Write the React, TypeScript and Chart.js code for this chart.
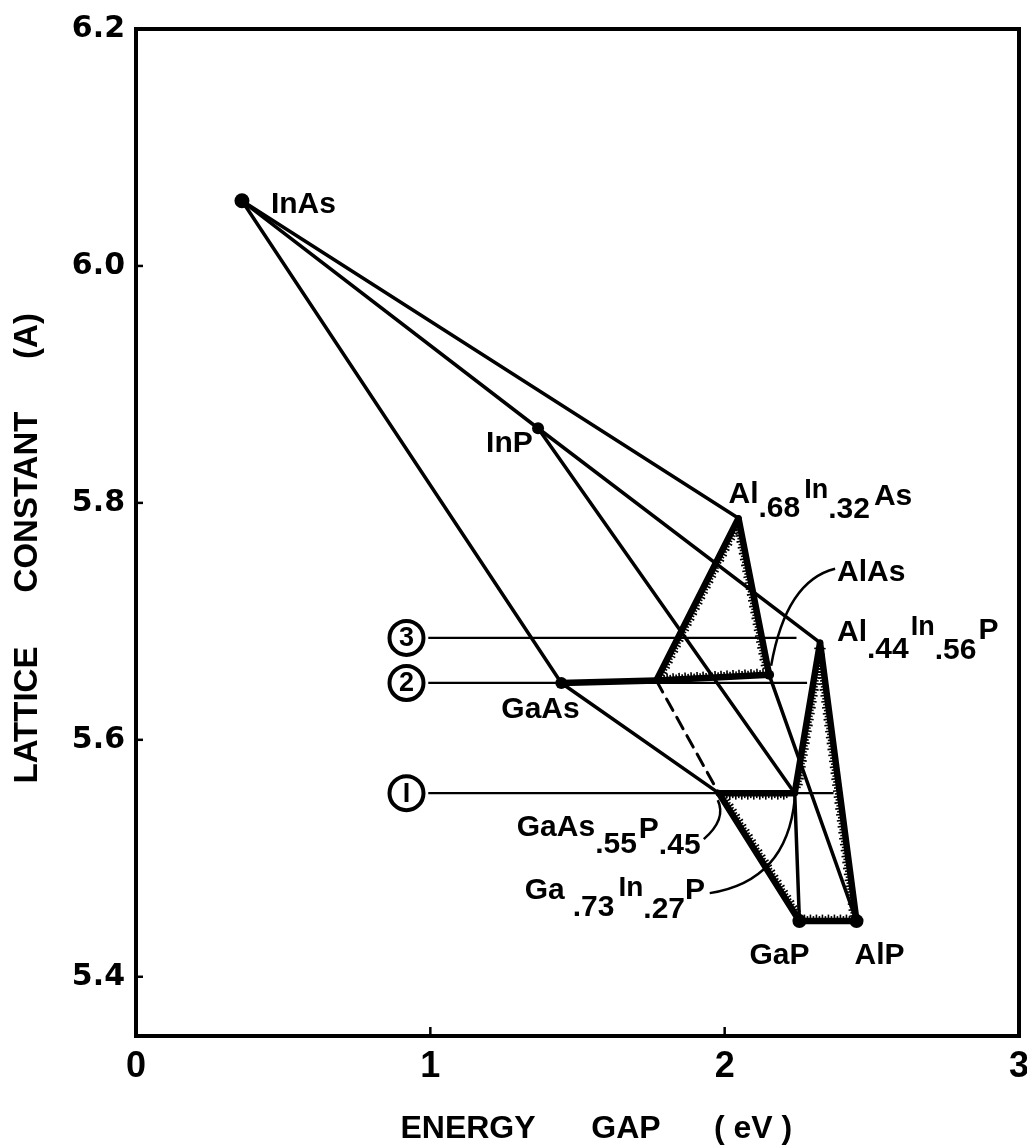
import React, { useEffect, useRef } from 'react';
import { Chart, registerables } from 'chart.js';

Chart.register(...registerables);

// ---------- data ----------
const xTicks = [0, 1, 2, 3];
const yTicks = [5.4, 5.6, 5.8, 6.0, 6.2];

const compoundNames = ['InAs', 'InP', 'GaAs', 'AlAs', 'GaP', 'AlP'];
const compoundGap = [0.36, 1.366, 1.445, 2.151, 2.254, 2.448];
const compoundLattice = [6.055, 5.863, 5.648, 5.655, 5.447, 5.447];

const alloyNames = ['Al.68In.32As', 'Al.44In.56P', 'GaAs.55P.45', 'Ga.73In.27P', 'AlGaAs-x'];
const alloyGap = [2.047, 2.324, 1.98, 2.238, 1.768];
const alloyLattice = [5.787, 5.682, 5.555, 5.555, 5.65];

const thinLines = [
  ['InAs', 'GaAs'],
  ['InAs', 'Al.68In.32As'],
  ['InAs', 'InP'],
  ['InP', 'Al.44In.56P'],
  ['InP', 'Ga.73In.27P'],
  ['GaAs', 'GaAs.55P.45'],
  ['AlAs', 'AlP'],
  ['Ga.73In.27P', 'GaP'],
];
const thickLines = [
  ['GaAs', 'AlGaAs-x'],
  ['AlGaAs-x', 'Al.68In.32As'],
  ['Al.68In.32As', 'AlAs'],
  ['AlGaAs-x', 'AlAs'],
  ['GaAs.55P.45', 'Ga.73In.27P'],
  ['GaAs.55P.45', 'GaP'],
  ['Al.44In.56P', 'Ga.73In.27P'],
  ['Al.44In.56P', 'AlP'],
  ['GaP', 'AlP'],
];
const dashedLines = [['AlGaAs-x', 'GaAs.55P.45']];
// stippled edge: [from, to, side-toward]
const stippledEdges = [
  ['AlGaAs-x', 'Al.68In.32As', 'AlAs'],
  ['Al.68In.32As', 'AlAs', 'AlGaAs-x'],
  ['AlGaAs-x', 'AlAs', 'Al.68In.32As'],
  ['GaAs.55P.45', 'Ga.73In.27P', 'GaP'],
  ['GaAs.55P.45', 'GaP', 'Ga.73In.27P'],
  ['Al.44In.56P', 'Ga.73In.27P', 'AlP'],
  ['Al.44In.56P', 'AlP', 'GaP'],
  ['GaP', 'AlP', 'Al.44In.56P'],
];

const matchLabels = ['1', '2', '3'];
const matchLattice = [5.555, 5.648, 5.686];
const matchFrom = [0.993, 0.993, 0.993];
const matchTo = [2.37, 2.28, 2.244];
const matchCircleGap = [0.919, 0.919, 0.919];

// ---------- styles ----------
const dotRadius = [7.5, 6, 6, 5, 7, 7];
const LABEL_FONT = '"Liberation Sans", Arial, sans-serif';

type Seg = { t: string; dy?: number; size?: number; gap?: number };
const labelStyle: Record<string, { dx: number; dy: number; segs: Seg[] }> = {
  InAs: { dx: 29, dy: 12, segs: [{ t: 'InAs' }] },
  InP: { dx: -52, dy: 24, segs: [{ t: 'InP' }] },
  GaAs: { dx: -60, dy: 35, segs: [{ t: 'GaAs' }] },
  AlAs: { dx: 68, dy: -94, segs: [{ t: 'AlAs' }] },
  GaP: { dx: -50, dy: 43, segs: [{ t: 'GaP' }] },
  AlP: { dx: -2, dy: 43, segs: [{ t: 'AlP' }] },
  'Al.68In.32As': {
    dx: -10, dy: -15,
    segs: [{ t: 'Al' }, { t: '.68', dy: 14, gap: 4 }, { t: 'In', dy: -5, size: 27 }, { t: '.32', dy: 15, gap: 4 }, { t: 'As', dy: 2 }],
  },
  'Al.44In.56P': {
    dx: 17, dy: -2,
    segs: [{ t: 'Al' }, { t: '.44', dy: 17, gap: 2 }, { t: 'In', dy: -6, size: 27 }, { t: '.56', dy: 18, gap: 2 }, { t: 'P', dy: -2 }],
  },
  'GaAs.55P.45': {
    dx: -202, dy: 43,
    segs: [{ t: 'GaAs' }, { t: '.55', dy: 17, gap: 2 }, { t: 'P', dy: 2 }, { t: '.45', dy: 18 }],
  },
  'Ga.73In.27P': {
    dx: -270, dy: 106,
    segs: [{ t: 'Ga', gap: 8 }, { t: '.73', dy: 17, gap: 4 }, { t: 'In', dy: -3, size: 28 }, { t: '.27', dy: 19 }, { t: 'P' }],
  },
};
// callout curves: [point, start offset, control offset, end offset] in px
const callouts: [string, number[], number[], number[]][] = [
  ['AlAs', [66, -106], [17, -94], [2, -9]],
  ['GaAs.55P.45', [-15, 46], [8, 26], [-1, 7]],
  ['Ga.73In.27P', [-85, 100], [-8, 88], [0, 6]],
];

function pointOf(name: string) {
  let i = compoundNames.indexOf(name);
  if (i >= 0) return { x: compoundGap[i], y: compoundLattice[i] };
  i = alloyNames.indexOf(name);
  return { x: alloyGap[i], y: alloyLattice[i] };
}

function segDataset(pair: string[], width: number, dash?: number[]) {
  return {
    type: 'scatter' as const,
    data: pair.map(pointOf),
    showLine: true,
    borderColor: '#000',
    borderWidth: width,
    borderDash: dash || [],
    borderCapStyle: 'round' as const,
    pointRadius: 0,
    fill: false,
  };
}

function drawRich(ctx: CanvasRenderingContext2D, x: number, y: number, segs: Seg[]) {
  let cx = x;
  for (const s of segs) {
    ctx.font = `bold ${s.size ?? 30}px ${LABEL_FONT}`;
    ctx.fillText(s.t, cx, y + (s.dy || 0));
    cx += ctx.measureText(s.t).width + (s.gap || 0);
  }
}

const decorPlugin = {
  id: 'decor',
  afterDatasetsDraw(chart: any) {
    const ctx: CanvasRenderingContext2D = chart.ctx;
    const xs = chart.scales.x;
    const ys = chart.scales.y;
    const ca = chart.chartArea;
    const px = (name: string) => {
      const p = pointOf(name);
      return { x: xs.getPixelForValue(p.x), y: ys.getPixelForValue(p.y) };
    };
    ctx.save();
    ctx.strokeStyle = '#000';
    ctx.fillStyle = '#000';

    // frame
    ctx.lineWidth = 4;
    ctx.strokeRect(ca.left, ca.top, ca.right - ca.left, ca.bottom - ca.top);
    // inward tick marks
    ctx.lineWidth = 2.5;
    xTicks.slice(1, -1).forEach((v) => {
      const x = xs.getPixelForValue(v);
      ctx.beginPath();
      ctx.moveTo(x, ca.bottom);
      ctx.lineTo(x, ca.bottom - 9);
      ctx.stroke();
    });
    yTicks.slice(0, -1).forEach((v) => {
      const y = ys.getPixelForValue(v);
      ctx.beginPath();
      ctx.moveTo(ca.left, y);
      ctx.lineTo(ca.left + 7, y);
      ctx.stroke();
    });

    // stipple along indirect-gap boundaries
    ctx.lineWidth = 1.6;
    stippledEdges.forEach(([a, b, c]) => {
      const A = px(a), B = px(b), C = px(c);
      const dx = B.x - A.x, dy = B.y - A.y;
      const len = Math.hypot(dx, dy);
      const ux = dx / len, uy = dy / len;
      let nx = -uy, ny = ux;
      if ((C.x - A.x) * nx + (C.y - A.y) * ny < 0) { nx = -nx; ny = -ny; }
      let k = 0;
      for (let s = 5; s < len - 5; s += 3) {
        const l = k % 2 === 0 ? 6.5 : 5;
        const bx = A.x + ux * s, by = A.y + uy * s;
        ctx.beginPath();
        ctx.moveTo(bx + nx * 2, by + ny * 2);
        ctx.lineTo(bx + nx * l, by + ny * l);
        ctx.stroke();
        k++;
      }
    });

    // callout curves
    ctx.lineWidth = 2.5;
    callouts.forEach(([name, s, c, e]) => {
      const P = px(name);
      ctx.beginPath();
      ctx.moveTo(P.x + s[0], P.y + s[1]);
      ctx.quadraticCurveTo(P.x + c[0], P.y + c[1], P.x + e[0], P.y + e[1]);
      ctx.stroke();
    });

    // numbered circles
    matchLabels.forEach((lab, i) => {
      const cx = xs.getPixelForValue(matchCircleGap[i]);
      const cy = ys.getPixelForValue(matchLattice[i]);
      ctx.beginPath();
      ctx.arc(cx, cy, 17, 0, Math.PI * 2);
      ctx.fillStyle = '#fff';
      ctx.fill();
      ctx.lineWidth = 4;
      ctx.stroke();
      ctx.fillStyle = '#000';
      ctx.font = `bold 27px ${LABEL_FONT}`;
      ctx.textAlign = 'center';
      ctx.textBaseline = 'middle';
      ctx.fillText(lab === '1' ? 'I' : lab, cx, cy + 1);
    });

    // compound labels
    ctx.textAlign = 'left';
    ctx.textBaseline = 'alphabetic';
    ctx.fillStyle = '#000';
    Object.keys(labelStyle).forEach((name) => {
      const P = px(name);
      const st = labelStyle[name];
      drawRich(ctx, P.x + st.dx, P.y + st.dy, st.segs);
    });

    // axis titles
    ctx.font = `bold 32px ${LABEL_FONT}`;
    ctx.textAlign = 'center';
    const xt: [string, number][] = [['ENERGY', 468], ['GAP', 626], ['( eV )', 753]];
    xt.forEach(([t, x]) => ctx.fillText(t, x, 1138));
    ctx.font = `bold 33px ${LABEL_FONT}`;
    const yt: [string, number][] = [['LATTICE', 715], ['CONSTANT', 502], ['(A)', 336]];
    yt.forEach(([t, y]) => {
      ctx.save();
      ctx.translate(37, y);
      ctx.rotate(-Math.PI / 2);
      ctx.fillText(t, 0, 0);
      ctx.restore();
    });
    ctx.restore();
  },
};

export default function App() {
  const ref = useRef<HTMLCanvasElement | null>(null);
  useEffect(() => {
    if (!ref.current) return;
    const datasets: any[] = [];
    matchLattice.forEach((v, i) => {
      datasets.push({
        type: 'scatter',
        data: [{ x: matchFrom[i], y: v }, { x: matchTo[i], y: v }],
        showLine: true,
        borderColor: '#000',
        borderWidth: 2.2,
        pointRadius: 0,
      });
    });
    thinLines.forEach((p) => datasets.push(segDataset(p, 3.5)));
    dashedLines.forEach((p) => datasets.push(segDataset(p, 3, [13, 8])));
    thickLines.forEach((p) => datasets.push(segDataset(p, 6.5)));
    datasets.push({
      type: 'scatter',
      data: compoundNames.map((n, i) => ({ x: compoundGap[i], y: compoundLattice[i] })),
      pointRadius: dotRadius,
      pointBackgroundColor: '#000',
      pointBorderWidth: 0,
      showLine: false,
    });

    const chart = new Chart(ref.current, {
      type: 'scatter',
      data: { datasets },
      options: {
        responsive: false,
        animation: false,
        events: [],
        layout: { padding: { left: 0, right: 8, top: 29, bottom: 0 } },
        plugins: { legend: { display: false }, tooltip: { enabled: false } },
        scales: {
          x: {
            type: 'linear',
            min: 0,
            max: 3,
            afterBuildTicks: (ax: any) => { ax.ticks = xTicks.map((v) => ({ value: v })); },
            afterFit: (s: any) => { s.height = 111; s.paddingLeft = 0; s.paddingRight = 0; },
            grid: { display: false, drawTicks: false },
            border: { display: false },
            ticks: {
              color: '#000',
              padding: 9,
              font: { family: LABEL_FONT, weight: 'bold', size: 36 },
              callback: (v: any) => String(v),
            },
          },
          y: {
            type: 'linear',
            min: 5.35,
            max: 6.2,
            afterBuildTicks: (ax: any) => { ax.ticks = yTicks.map((v) => ({ value: v })); },
            afterFit: (s: any) => { s.width = 136; s.paddingTop = 0; s.paddingBottom = 0; },
            grid: { display: false, drawTicks: false },
            border: { display: false },
            ticks: {
              color: '#000',
              padding: 11,
              font: { family: '"DejaVu Sans", sans-serif', weight: 'bold', size: 30 },
              callback: (v: any) => Number(v).toFixed(1),
            },
          },
        },
      } as any,
      plugins: [decorPlugin],
    });
    return () => chart.destroy();
  }, []);

  return (
    <div style={{ position: 'absolute', left: 0, top: 0, width: 1027, height: 1147, background: '#fff' }}>
      <canvas ref={ref} width={1027} height={1147} style={{ display: 'block' }} />
    </div>
  );
}
